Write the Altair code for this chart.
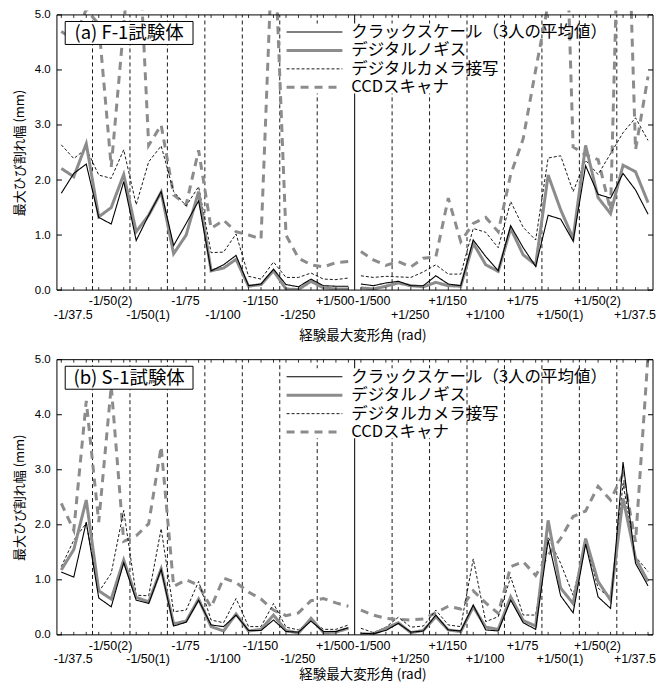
import altair as alt
import pandas as pd

# ---------------- data ----------------
SERIES = ["クラックスケール（3人の平均値）", "デジタルノギス", "デジタルカメラ接写", "CCDスキャナ"]
TICK_LABELS = ["-1/37.5", "-1/50(2)", "-1/50(1)", "-1/75", "-1/100", "-1/150", "-1/250", "+1/500",
               "-1/500", "+1/250", "+1/150", "+1/100", "+1/75", "+1/50(1)", "+1/50(2)", "+1/37.5"]
LABEL_ROW = [1, 0, 1, 0, 1, 0, 1, 0, 0, 1, 0, 1, 0, 1, 0, 1]   # 0 = upper row, 1 = lower row
PTS_PER_STEP = 3
Y_TICKS = [0, 1, 2, 3, 4, 5]

A_CRACK = [1.76, 2.12, 2.29, 1.32, 1.20, 1.97, 0.90, 1.36, 1.79, 0.81, 1.21, 1.62,
           0.35, 0.46, 0.63, 0.08, 0.11, 0.38, 0.10, 0.06, 0.20, 0.08, 0.07, 0.07,
           0.11, 0.08, 0.13, 0.16, 0.08, 0.08, 0.26, 0.11, 0.08, 0.91, 0.61, 0.35,
           1.17, 0.77, 0.43, 1.36, 1.29, 0.89, 2.26, 1.74, 1.67, 2.12, 1.82, 1.38]
A_CALIPER = [2.21, 2.06, 2.66, 1.33, 1.50, 2.10, 1.06, 1.36, 1.78, 0.66, 1.00, 1.79,
             0.35, 0.40, 0.56, 0.07, 0.10, 0.35, 0.02, 0.01, 0.16, 0.04, 0.02, 0.02,
             0.04, 0.02, 0.07, 0.13, 0.08, 0.06, 0.14, 0.08, 0.07, 0.85, 0.46, 0.34,
             1.12, 0.64, 0.46, 2.09, 1.46, 0.94, 2.63, 1.68, 1.39, 2.27, 2.15, 1.59]
A_CAMERA = [2.64, 2.39, 2.57, 2.09, 2.03, 2.55, 1.55, 2.33, 2.62, 1.79, 1.53, 1.88,
            0.68, 0.69, 1.02, 0.25, 0.20, 0.51, 0.23, 0.23, 0.31, 0.20, 0.19, 0.22,
            0.26, 0.23, 0.25, 0.24, 0.23, 0.33, 0.46, 0.29, 0.29, 1.12, 1.05, 0.77,
            1.61, 1.14, 0.91, 2.40, 2.44, 1.79, 2.36, 2.10, 2.48, 2.86, 3.13, 2.72]
A_CCD = [4.70, 4.55, 5.10, 4.83, 2.24, 4.80, 7.40, 2.63, 3.00, 1.73, 1.55, 2.54,
         1.12, 1.27, 1.06, 1.00, 0.93, 6.80, 1.00, 0.58, 0.46, 0.42, 0.50, 0.52,
         0.70, 0.55, 0.45, 0.52, 0.42, 0.58, 0.60, 1.67, 0.88, 1.21, 1.32, 1.06,
         2.10, 2.75, 4.00, 5.20, 10.0, 2.60, 2.46, 2.37, 1.45, 10.0, 2.55, 3.88]

B_CRACK = [1.14, 1.05, 2.05, 0.67, 0.51, 1.31, 0.63, 0.57, 1.19, 0.16, 0.23, 0.63,
           0.18, 0.15, 0.36, 0.08, 0.08, 0.27, 0.06, 0.05, 0.25, 0.06, 0.06, 0.13,
           0.03, 0.02, 0.08, 0.21, 0.05, 0.07, 0.36, 0.09, 0.07, 0.54, 0.09, 0.07,
           0.63, 0.22, 0.10, 1.72, 0.71, 0.40, 1.65, 0.69, 0.48, 3.14, 1.30, 0.89]
B_CALIPER = [1.18, 1.55, 2.45, 0.80, 0.65, 1.36, 0.68, 0.60, 1.20, 0.20, 0.25, 0.65,
             0.15, 0.07, 0.38, 0.07, 0.10, 0.36, 0.08, 0.03, 0.30, 0.04, 0.05, 0.12,
             0.01, 0.02, 0.12, 0.22, 0.04, 0.08, 0.33, 0.09, 0.06, 0.51, 0.14, 0.10,
             0.69, 0.26, 0.16, 2.08, 0.85, 0.57, 1.75, 0.97, 0.63, 2.48, 1.39, 0.97]
B_CAMERA = [1.24, 1.72, 2.03, 0.78, 1.12, 2.26, 0.72, 0.71, 1.93, 0.42, 0.45, 0.97,
            0.27, 0.22, 0.66, 0.15, 0.15, 0.57, 0.14, 0.09, 0.27, 0.10, 0.10, 0.18,
            0.12, 0.04, 0.14, 0.32, 0.14, 0.16, 0.45, 0.18, 0.15, 1.38, 0.24, 0.33,
            1.05, 0.36, 0.36, 1.78, 1.30, 0.72, 1.69, 0.85, 0.66, 2.75, 1.42, 1.15]
B_CCD = [2.39, 1.90, 4.25, 2.05, 4.52, 1.70, 1.80, 2.02, 3.42, 0.88, 1.00, 0.90,
         0.50, 1.03, 0.95, 0.78, 0.65, 0.45, 0.35, 0.40, 0.62, 0.66, 0.58, 0.52,
         0.45, 0.36, 0.30, 0.28, 0.27, 0.29, 0.40, 0.52, 0.47, 0.80, 0.58, 0.39,
         1.24, 1.33, 1.08, 1.45, 1.75, 2.15, 2.25, 2.70, 2.45, 2.92, 1.69, 5.08]

PANELS = [
    ("(a) F-1試験体", [A_CRACK, A_CALIPER, A_CAMERA, A_CCD], 45.3),
    ("(b) S-1試験体", [B_CRACK, B_CALIPER, B_CAMERA, B_CCD], 39.5),
]

# ---------------- style ----------------
COLORS = ["black", "#8c8c8c", "black", "#8c8c8c"]
DASHES = [[1, 0], [1, 0], [3, 2], [8, 6]]
WIDTHS = [1.1, 3.0, 0.9, 3.0]
JP = "Noto Sans CJK JP"
NUM = "Liberation Sans"

W, H = 597, 280
Y_FRAME = 5
Y_TOP = 5.08
FRAME_TOP = H * (Y_TOP - Y_FRAME) / Y_TOP
XS = alt.Scale(domain=[-0.35, 47.4], nice=False, zero=False)
YS = alt.Scale(domain=[0, Y_TOP], nice=False, zero=False)


def axes(title_y):
    ax = alt.Axis(
        title="経験最大変形角 (rad)", labels=False, ticks=False, domain=False, grid=False,
        titleFont=JP, titleFontSize=13.5, titleFontWeight="normal", titleColor="black",
        titleX=306, titleY=title_y, titleBaseline="middle", titleAlign="center")
    ay = alt.Axis(
        values=Y_TICKS, format=".1f", ticks=False, tickSize=0, domain=False, grid=False,
        labelFont=NUM, labelFontSize=11.5, labelColor="black", labelPadding=6.7,
        title="最大ひび割れ幅 (mm)", titleFont=JP, titleFontSize=13,
        titleFontWeight="normal", titleColor="black",
        titleX=-37.2, titleY=142.2, titleBaseline="middle", titleAlign="center")
    return ax, ay


def panel(tag, values, title_y):
    AX, AY = axes(title_y)
    n = len(values[0])
    half = n // 2
    rows = []
    for name, vals in reversed(list(zip(SERIES, values))):
        for i, v in enumerate(vals):
            rows.append({"series": name, "idx": i, "value": v, "half": 0 if i < half else 1})
    df = pd.DataFrame(rows)

    nsteps = len(TICK_LABELS)
    bnd = pd.DataFrame({
        "idx": [PTS_PER_STEP * k - 0.5 for k in range(1, nsteps)],
        "mid": [1 if k == nsteps // 2 else 0 for k in range(1, nsteps)],
        "value": 0, "v1": Y_FRAME,
    })
    grid_dash = alt.Chart(bnd).transform_filter("datum.mid == 0").mark_rule(
        color="black", strokeWidth=0.9, strokeDash=[4, 3]).encode(
        x=alt.X("idx:Q", scale=XS, axis=AX),
        y=alt.Y("value:Q", scale=YS, axis=AY), y2="v1:Q")
    grid_solid = alt.Chart(bnd).transform_filter("datum.mid == 1").mark_rule(
        color="black", strokeWidth=1).encode(
        x=alt.X("idx:Q", scale=XS, axis=AX),
        y=alt.Y("value:Q", scale=YS, axis=AY), y2="v1:Q")

    one = pd.DataFrame({"k": [0]})
    legend_bg = alt.Chart(one).mark_rect(fill="white").encode(
        x=alt.value(227), x2=alt.value(407), y=alt.value(13), y2=alt.value(83))

    leg = alt.Legend(title=None, orient="none", legendX=249.7, legendY=13.2,
                     symbolType="M-5,0H5", symbolSize=125, labelFont=JP, labelFontSize=16.5,
                     labelColor="black", labelOffset=28.5, rowPadding=1.5, padding=0,
                     labelLimit=600)
    lines = alt.Chart(df).mark_line(clip=True).encode(
        x=alt.X("idx:Q", scale=XS, axis=AX),
        y=alt.Y("value:Q", scale=YS, axis=AY),
        color=alt.Color("series:N", scale=alt.Scale(domain=SERIES, range=COLORS), legend=leg),
        strokeDash=alt.StrokeDash("series:N", scale=alt.Scale(domain=SERIES, range=DASHES), legend=leg),
        strokeWidth=alt.StrokeWidth("series:N", scale=alt.Scale(type="ordinal", domain=SERIES, range=WIDTHS), legend=leg),
        detail="half:N",
    )

    box = alt.Chart(one).mark_rect(fill="white", stroke="black", strokeWidth=1).encode(
        x=alt.value(8.3), x2=alt.value(136.3), y=alt.value(11), y2=alt.value(34))
    box_text = alt.Chart(pd.DataFrame({"t": [tag]})).mark_text(
        font=JP, fontSize=18.5, color="black", baseline="middle", align="center").encode(
        x=alt.value(72.3), y=alt.value(22.5), text="t:N")

    frame = alt.Chart(pd.DataFrame({"value": [0], "v1": [Y_FRAME]})).mark_rect(
        fillOpacity=0, stroke="black", strokeWidth=1).encode(
        x=alt.value(0), x2=alt.value(W),
        y=alt.Y("value:Q", scale=YS, axis=AY), y2="v1:Q")

    yt = pd.DataFrame({"value": Y_TICKS})
    ytick_l = alt.Chart(yt).mark_rule(color="black", strokeWidth=1).encode(
        y=alt.Y("value:Q", scale=YS, axis=AY), x=alt.value(0), x2=alt.value(5))
    ytick_r = alt.Chart(yt).mark_rule(color="black", strokeWidth=1).encode(
        y=alt.Y("value:Q", scale=YS, axis=AY), x=alt.value(W - 5), x2=alt.value(W))

    xt = pd.DataFrame({"idx": list(range(n))})
    xtick_t = alt.Chart(xt).mark_rule(color="black", strokeWidth=0.8).encode(
        x=alt.X("idx:Q", scale=XS, axis=AX), y=alt.value(FRAME_TOP), y2=alt.value(FRAME_TOP + 3))
    xtick_b = alt.Chart(xt).mark_rule(color="black", strokeWidth=0.8).encode(
        x=alt.X("idx:Q", scale=XS, axis=AX), y=alt.value(H - 3), y2=alt.value(H))

    lab = pd.DataFrame({
        "idx": [PTS_PER_STEP * k + 0.95 for k in range(nsteps)],
        "label": TICK_LABELS, "row": LABEL_ROW})
    upper = alt.Chart(lab).transform_filter("datum.row == 0").mark_text(
        font=NUM, fontSize=12.5, color="black", baseline="middle", align="center").encode(
        x=alt.X("idx:Q", scale=XS, axis=AX), y=alt.value(H + 11), text="label:N")
    lower = alt.Chart(lab).transform_filter("datum.row == 1").mark_text(
        font=NUM, fontSize=12.5, color="black", baseline="middle", align="center").encode(
        x=alt.X("idx:Q", scale=XS, axis=AX), y=alt.value(H + 24.5), text="label:N")

    return alt.layer(grid_dash, grid_solid, legend_bg, lines, box, box_text, frame,
                     ytick_l, ytick_r, xtick_t, xtick_b, upper, lower).properties(width=W, height=H)


charts = [panel(t, v, ty) for t, v, ty in PANELS]
chart = alt.vconcat(*charts, spacing=65.3, bounds="flush").resolve_scale(
    color="independent", strokeDash="independent", strokeWidth="independent"
).resolve_legend(
    color="independent", strokeDash="independent", strokeWidth="independent"
).properties(
    padding={"left": 5, "top": 0, "right": 5, "bottom": 0}
).configure_view(strokeWidth=0)

chart.save("out.html", embed_options={"renderer": "svg", "actions": False})
